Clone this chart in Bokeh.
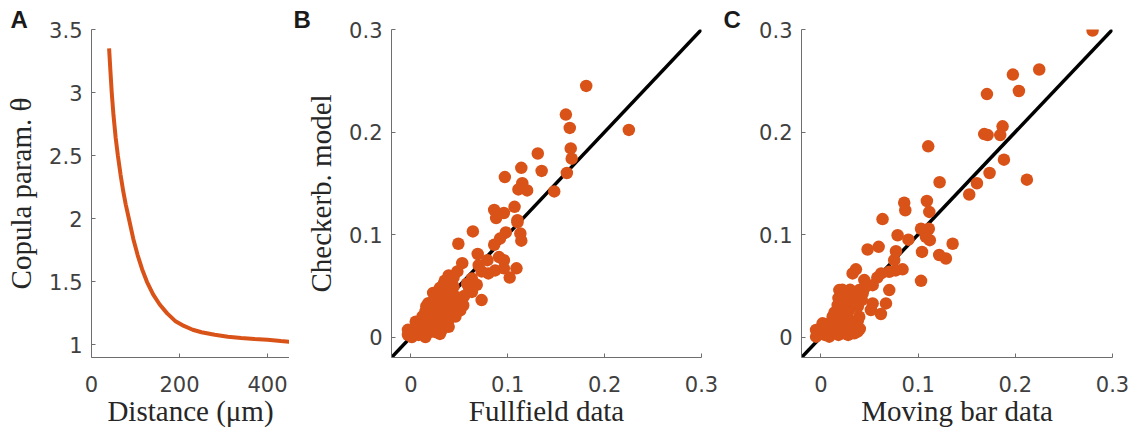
from bokeh.plotting import figure
from bokeh.layouts import row
from bokeh.models import Range1d, FixedTicker
from bokeh.embed import file_html
from bokeh.resources import INLINE

# ---------------- data ----------------
distance_um = [40, 43, 46, 50, 55, 60, 66, 72, 78, 85, 95, 105, 115, 126, 140,
               155, 172, 190, 210, 230, 250, 280, 310, 340, 370, 400, 430, 450]
copula_theta = [3.35, 3.17, 3.00, 2.82, 2.64, 2.50, 2.35, 2.22, 2.11, 2.00, 1.84,
                1.71, 1.60, 1.50, 1.40, 1.32, 1.25, 1.19, 1.15, 1.12, 1.10, 1.08,
                1.065, 1.055, 1.047, 1.04, 1.03, 1.025]

fullfield_data = [0.181, 0.160, 0.164, 0.225, 0.165, 0.166, 0.161, 0.148, 0.131, 0.135,
                  0.114, 0.097, 0.115, 0.111, 0.120, 0.107, 0.086, 0.096, 0.088, 0.110,
                  0.064, 0.098, 0.113, 0.114, 0.092, 0.086, 0.049, 0.110, 0.069, 0.079,
                  0.091, 0.096, 0.053, 0.070, 0.073, 0.087, 0.096, 0.109, 0.102, 0.080,
                  0.039, 0.048, 0.063, 0.058, 0.068, 0.063, 0.073, 0.054, 0.034, 0.023,
                  0.036, 0.042, 0.027, 0.046, 0.015, 0.032, 0.051, 0.005, 0.018, 0.039,
                  -0.003, 0.011, 0.025, -0.003, 0.015, 0.032, 0.008, 0.022, 0.018, 0.036,
                  0.044, 0.025, 0.005, 0.036, 0.046, 0.030, 0.012, 0.028, 0.020, 0.040,
                  0.001, 0.008,
                  0.002, 0.006, 0.010, 0.014, 0.018, 0.022, 0.026, 0.030, 0.034, 0.038,
                  0.042, 0.020, 0.024, 0.028, 0.032, 0.040, 0.045, 0.050, 0.035, 0.044,
                  0.030, 0.016, 0.012, 0.030, 0.038, 0.042, 0.048, 0.055, 0.060]
checkerb_ff = [0.245, 0.217, 0.204, 0.202, 0.184, 0.174, 0.160, 0.142, 0.179, 0.162,
               0.165, 0.156, 0.150, 0.144, 0.143, 0.127, 0.124, 0.121, 0.116, 0.114,
               0.103, 0.102, 0.101, 0.094, 0.096, 0.090, 0.091, 0.112, 0.081, 0.075,
               0.078, 0.075, 0.072, 0.070, 0.064, 0.065, 0.067, 0.067, 0.058, 0.062,
               0.060, 0.064, 0.057, 0.052, 0.051, 0.044, 0.036, 0.031, 0.052, 0.043,
               0.044, 0.038, 0.034, 0.030, 0.025, 0.023, 0.026, 0.015, 0.017, 0.010,
               0.007, 0.007, 0.005, 0.002, 0.000, 0.007, 0.010, 0.028, 0.033, 0.036,
               0.049, 0.039, 0.004, 0.017, 0.020, 0.030, 0.020, 0.012, 0.005, 0.025,
               0.000, 0.002,
               0.004, 0.008, 0.012, 0.010, 0.008, 0.012, 0.016, 0.020, 0.028, 0.032,
               0.030, 0.022, 0.026, 0.038, 0.042, 0.045, 0.040, 0.035, 0.055, 0.058,
               0.048, 0.030, 0.004, 0.003, 0.014, 0.020, 0.025, 0.040, 0.048]

movingbar_data = [0.2795, 0.2246, 0.1975, 0.2037, 0.1708, 0.1869, 0.1845, 0.168, 0.1715, 0.1104,
                  0.1883, 0.1735, 0.2119, 0.1605, 0.1526, 0.1221, 0.0857, 0.109, 0.0868, 0.1115,
                  0.103, 0.111, 0.0634, 0.108, 0.112, 0.1355, 0.1217, 0.1286, 0.104, 0.0789,
                  0.090, 0.0772, 0.0754, 0.048, 0.0594, 0.103, 0.084, 0.077, 0.0703, 0.036,
                  0.0326, 0.0703, 0.0669, 0.0617, 0.0514, 0.0532, 0.0446, 0.0189, 0.0257, 0.0394,
                  0.036, 0.0172, 0.0291, 0.0394, 0.0326, 0.0377, 0.0223, 0.012, 0.0017, -0.005,
                  -0.005, 0.0086, 0.0223, 0.005, 0.0154, 0.0257, 0.0223, 0.0291, 0.0429, 0.0532,
                  0.0343, 0.058, 0.062,
                  0.000, 0.004, 0.008, 0.012, 0.016, 0.020, 0.024, 0.028, 0.030, 0.034,
                  0.038, 0.026, 0.022, 0.030, 0.034, 0.038, 0.042, 0.026, 0.030, 0.034,
                  0.018, 0.022, 0.040, 0.045, 0.010, 0.006, 0.014, 0.018, 0.028, 0.040]
checkerb_mb = [0.299, 0.261, 0.256, 0.240, 0.237, 0.2055, 0.197, 0.198, 0.197, 0.186,
               0.173, 0.160, 0.1535, 0.150, 0.139, 0.151, 0.131, 0.1327, 0.1237, 0.122,
               0.1056, 0.1056, 0.115, 0.0977, 0.0945, 0.091, 0.080, 0.0766, 0.083, 0.0993,
               0.095, 0.0837, 0.075, 0.0854, 0.088, 0.0548, 0.066, 0.065, 0.0636, 0.066,
               0.062, 0.0458, 0.0328, 0.0224, 0.0263, 0.0328, 0.0555, 0.0458, 0.0425, 0.0458,
               0.036, 0.031, 0.0263, 0.0198, 0.0133, 0.0052, 0.0166, 0.0198, 0.0133, 0.0068,
               0.0003, 0.0003, 0.0036, 0.0068, 0.010, 0.0295, 0.036, 0.039, 0.0425, 0.0506,
               0.0036, 0.058, 0.062,
               0.004, 0.002, 0.008, 0.004, 0.006, 0.010, 0.014, 0.018, 0.008, 0.010,
               0.016, 0.022, 0.026, 0.032, 0.036, 0.030, 0.036, 0.040, 0.046, 0.044,
               0.038, 0.046, 0.040, 0.048, 0.014, 0.012, 0.024, 0.002, 0.002, 0.008]

scatter_ticks = [0, 0.1, 0.2, 0.3]
scatter_tick_labels = ["0", "0.1", "0.2", "0.3"]
theta_ticks = [1, 1.5, 2, 2.5, 3, 3.5]
theta_tick_labels = ["1", "1.5", "2", "2.5", "3", "3.5"]
dist_ticks = [0, 200, 400]
dist_tick_labels = ["0", "200", "400"]

ORANGE = "#D95319"
AXIS_COL = "#6e6e6e"
TICKLBL_COL = "#404040"
TICK_FONT = "DejaVu Sans"
LABEL_FONT = "Liberation Serif"
FRAME_H = 328
TOP = 29


def make_fig(frame_w, left, right, xr, yr, xticks, xlabels, yticks, ylabels,
             xlabel, ylabel, letter, letter_offset):
    p = figure(frame_width=frame_w, frame_height=FRAME_H, output_backend="svg",
               toolbar_location=None, x_range=Range1d(*xr), y_range=Range1d(*yr),
               min_border_left=left, min_border_right=right,
               min_border_top=TOP, min_border_bottom=10,
               title=letter)
    p.outline_line_color = None
    p.grid.visible = False
    p.background_fill_color = "white"
    p.border_fill_color = "white"
    p.title.text_font = "Liberation Sans"
    p.title.text_font_size = "24px"
    p.title.text_font_style = "bold"
    p.title.text_color = "#1a1a1a"
    p.title.align = "left"
    p.title.offset = letter_offset
    p.title.standoff = -7
    for ax, ticks, labels, so, lab, lso in ((p.xaxis[0], xticks, xlabels, 18, xlabel, 0),
                                            (p.yaxis[0], yticks, ylabels, 9, ylabel, 9)):
        ax.ticker = FixedTicker(ticks=ticks)
        ax.major_label_overrides = {t: l for t, l in zip(ticks, labels)}
        ax.axis_line_color = AXIS_COL
        ax.axis_line_width = 1
        ax.major_tick_line_color = AXIS_COL
        ax.major_tick_in = 4
        ax.major_tick_out = 0
        ax.minor_tick_line_color = None
        ax.major_label_text_font = TICK_FONT
        ax.major_label_text_font_size = "21px"
        ax.major_label_text_color = TICKLBL_COL
        ax.major_label_standoff = so
        if lab:
            ax.axis_label = lab
            ax.axis_label_text_font = LABEL_FONT
            ax.axis_label_text_font_size = "29px"
            ax.axis_label_text_font_style = "normal"
            ax.axis_label_text_color = "#262626"
            ax.axis_label_standoff = lso
    return p


# Panel A (canvas 0 -> 289)
pA = make_fig(198, 91, 0, (0, 450), (0.9, 3.5), dist_ticks, dist_tick_labels,
              theta_ticks, theta_tick_labels, "Distance (μm)", "Copula param. θ",
              "A", -81)
pA.line(distance_um, copula_theta, line_color=ORANGE, line_width=4)

lo, hi = -0.02, 0.3

# Panel B (canvas 289 -> 721)
pB = make_fig(310, 102, 20, (lo, hi), (lo, hi), scatter_ticks, scatter_tick_labels,
              scatter_ticks, scatter_tick_labels, "Fullfield data", "Checkerb. model",
              "B", -98)
pB.line([lo, hi], [lo, hi], line_color="black", line_width=3.5)
pB.scatter(fullfield_data, checkerb_ff, size=12.5, fill_color=ORANGE, line_color=None)

# Panel C (canvas 721 -> 1139)
pC = make_fig(311, 80, 27, (lo, hi), (lo, hi), scatter_ticks, scatter_tick_labels,
              scatter_ticks, scatter_tick_labels, "Moving bar data", None,
              "C", -78)
pC.line([lo, hi], [lo, hi], line_color="black", line_width=3.5)
pC.scatter(movingbar_data, checkerb_mb, size=12.5, fill_color=ORANGE, line_color=None)

layout = row(pA, pB, pC)
open("out.html", "w").write(file_html(layout, INLINE))
